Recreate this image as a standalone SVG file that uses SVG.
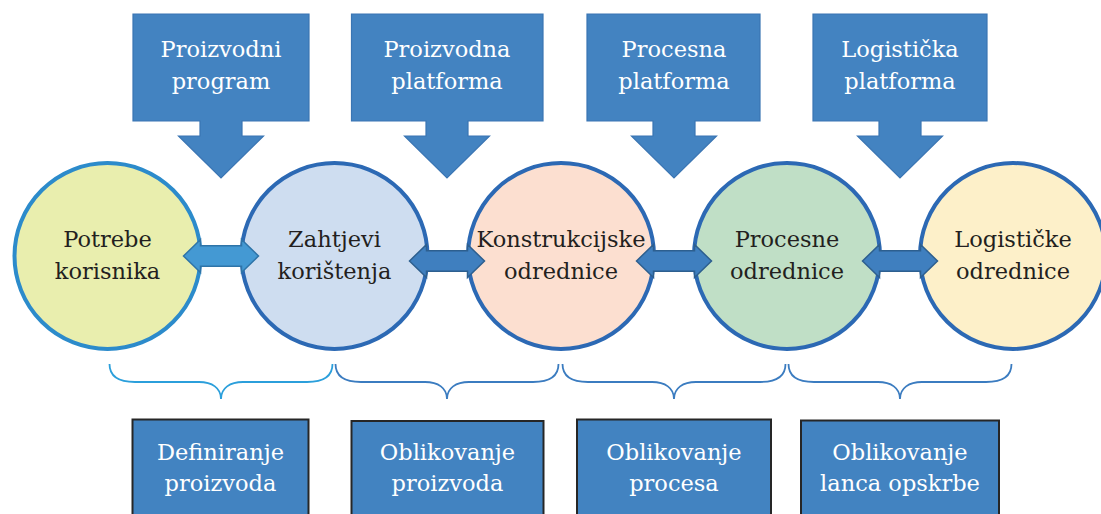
<svg xmlns="http://www.w3.org/2000/svg" width="1101" height="514" viewBox="0 0 1101 514">
<style>
.callout{fill:#4383C1;stroke:#3A75B3;stroke-width:1.2}
.circ{stroke:#2C69B4;stroke-width:4}
.ctext{font-family:"DejaVu Serif","Liberation Serif",serif;font-size:22.5px;fill:#231F20;text-anchor:middle}
.wtext{font-family:"DejaVu Serif","Liberation Serif",serif;font-size:22.5px;fill:#FFFFFF;text-anchor:middle}
.box{fill:#4283C1;stroke:#262626;stroke-width:2}
.arr{fill:#3F7FBF;stroke:#2D5F8F;stroke-width:1.5}
.arr1{fill:#4499D3;stroke:#2E74A8;stroke-width:1.5}
.brace{fill:none;stroke:#3B7CC0;stroke-width:1.8}
.brace1{fill:none;stroke:#2B9FDB;stroke-width:1.8}
</style>
<defs>
<path id="dbl" d="M-37.5,0 L-20.5,-16.5 V-10.2 H20.5 V-16.5 L37.5,0 L20.5,16.5 V10.2 H-20.5 V16.5 Z"/>
<path id="br" d="M-111.5,-35 C-111.5,-23 -103,-17 -86,-17 H-22 C-9,-17 0,-11 0,0 C0,-11 9,-17 22,-17 H86 C103,-17 111.5,-23 111.5,-35"/>
</defs>

<g id="top1">
<path class="callout" d="M133,14 H309 V121 H242 V136 H263.5 L221,178 L178.5,136 H200 V121 H133 Z"/>
<text class="wtext" x="221" y="57">Proizvodni</text>
<text class="wtext" x="221" y="89">program</text>
</g>
<g id="top2">
<path class="callout" d="M351.5,14 H543 V121 H468 V136 H489.5 L447,178 L404.5,136 H426 V121 H351.5 Z"/>
<text class="wtext" x="447" y="57">Proizvodna</text>
<text class="wtext" x="447" y="89">platforma</text>
</g>
<g id="top3">
<path class="callout" d="M587,14 H760 V121 H695 V136 H716.5 L674,178 L631.5,136 H653 V121 H587 Z"/>
<text class="wtext" x="674" y="57">Procesna</text>
<text class="wtext" x="674" y="89">platforma</text>
</g>
<g id="top4">
<path class="callout" d="M813,14 H987 V121 H921 V136 H942.5 L900,178 L857.5,136 H879 V121 H813 Z"/>
<text class="wtext" x="900" y="57">Logistička</text>
<text class="wtext" x="900" y="89">platforma</text>
</g>

<g id="c1">
<circle class="circ" cx="107.5" cy="256" r="93" fill="#E9EEAE" style="stroke:#2C8BCB"/>
<text class="ctext" x="107.5" y="246.7">Potrebe</text>
<text class="ctext" x="107.5" y="279">korisnika</text>
</g>
<g id="c2">
<circle class="circ" cx="334.5" cy="256" r="93" fill="#CEDDF0"/>
<text class="ctext" x="334.5" y="246.7">Zahtjevi</text>
<text class="ctext" x="334.5" y="279">korištenja</text>
</g>
<g id="c3">
<circle class="circ" cx="561" cy="256" r="93" fill="#FCDFD0"/>
<text class="ctext" x="561" y="246.7">Konstrukcijske</text>
<text class="ctext" x="561" y="279">odrednice</text>
</g>
<g id="c4">
<circle class="circ" cx="787" cy="256" r="93" fill="#C0DFC6"/>
<text class="ctext" x="787" y="246.7">Procesne</text>
<text class="ctext" x="787" y="279">odrednice</text>
</g>
<g id="c5">
<circle class="circ" cx="1013" cy="256" r="93" fill="#FDF0C9"/>
<text class="ctext" x="1013" y="246.7">Logističke</text>
<text class="ctext" x="1013" y="279">odrednice</text>
</g>

<g id="connectors">
<use href="#dbl" class="arr1" transform="translate(221,256)"/>
<use href="#dbl" class="arr" transform="translate(447,261)"/>
<use href="#dbl" class="arr" transform="translate(674,261)"/>
<use href="#dbl" class="arr" transform="translate(900,261)"/>
<use href="#br" class="brace1" transform="translate(221,399)"/>
<use href="#br" class="brace" transform="translate(447,399)"/>
<use href="#br" class="brace" transform="translate(674,399)"/>
<use href="#br" class="brace" transform="translate(900,399)"/>
</g>

<g id="b1">
<rect class="box" x="132.5" y="419.5" width="176" height="110"/>
<text class="wtext" x="220.5" y="460">Definiranje</text>
<text class="wtext" x="220.5" y="491">proizvoda</text>
</g>
<g id="b2">
<rect class="box" x="351.5" y="421" width="192" height="110"/>
<text class="wtext" x="447.5" y="460">Oblikovanje</text>
<text class="wtext" x="447.5" y="491">proizvoda</text>
</g>
<g id="b3">
<rect class="box" x="577" y="419.5" width="194" height="110"/>
<text class="wtext" x="674" y="460">Oblikovanje</text>
<text class="wtext" x="674" y="491">procesa</text>
</g>
<g id="b4">
<rect class="box" x="801" y="420.5" width="198" height="110"/>
<text class="wtext" x="900" y="460">Oblikovanje</text>
<text class="wtext" x="900" y="491">lanca opskrbe</text>
</g>
</svg>
